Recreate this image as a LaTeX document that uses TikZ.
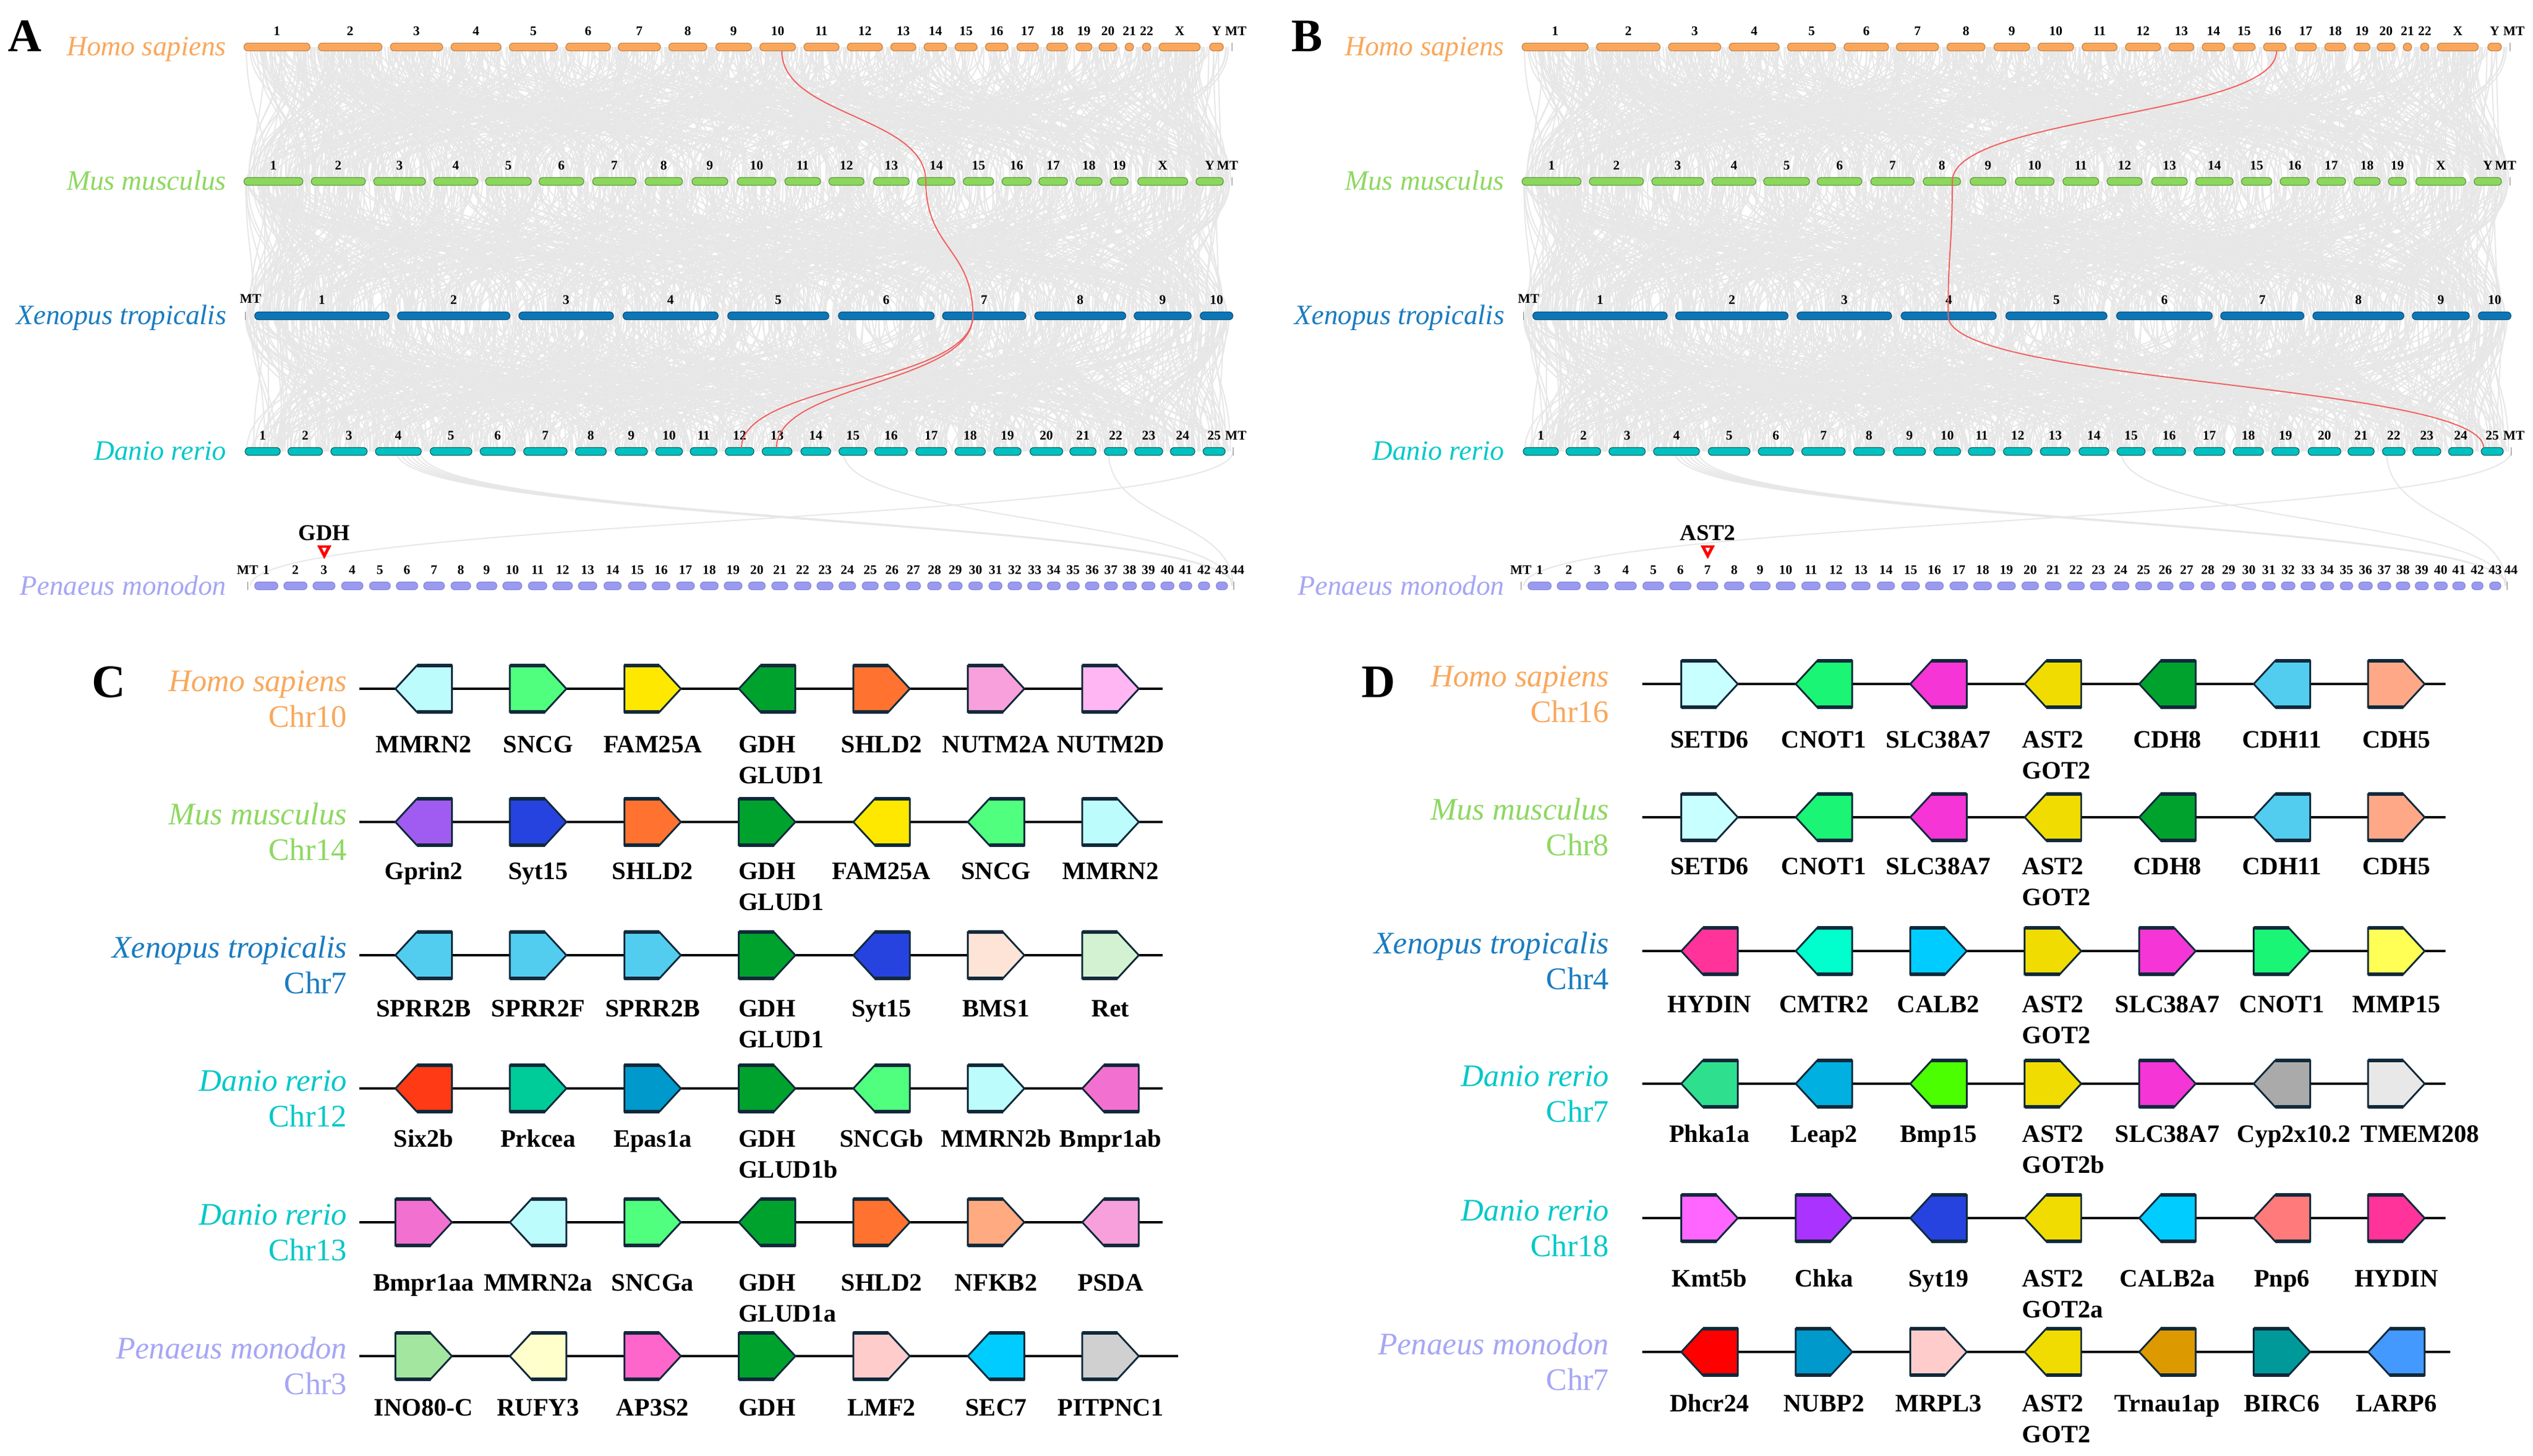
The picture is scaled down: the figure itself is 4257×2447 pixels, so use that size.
\documentclass[tikz,border=0pt]{standalone}
\usepackage{fontspec}
\setmainfont{Liberation Serif}
\usetikzlibrary{calc}

\definecolor{cHomo}{HTML}{FBA75B}
\definecolor{cHomoD}{HTML}{C0834A}
\definecolor{cMus}{HTML}{8CD85C}
\definecolor{cMusD}{HTML}{5E9440}
\definecolor{cXen}{HTML}{0B77B7}
\definecolor{cXenD}{HTML}{084F7C}
\definecolor{cDan}{HTML}{00C1C1}
\definecolor{cDanD}{HTML}{00605F}
\definecolor{cPen}{HTML}{9A9AF0}
\definecolor{cPenD}{HTML}{8585D8}
\definecolor{tHomo}{HTML}{F9A85C}
\definecolor{tMus}{HTML}{8ED862}
\definecolor{tXen}{HTML}{1A7CC0}
\definecolor{tDan}{HTML}{00C8C8}
\definecolor{tPen}{HTML}{A6A6F6}
\definecolor{synt}{HTML}{E7E7E7}
\definecolor{synred}{HTML}{F26060}
\definecolor{gout}{HTML}{10293A}
\definecolor{gLCyan}{HTML}{BDFCFC}
\definecolor{gSNCG}{HTML}{50FF7E}
\definecolor{gYel}{HTML}{FFE800}
\definecolor{gGDH}{HTML}{00A22E}
\definecolor{gOrg}{HTML}{FF7230}
\definecolor{gPinkA}{HTML}{F8A0DC}
\definecolor{gPinkB}{HTML}{FFB6F2}
\definecolor{gPurp}{HTML}{A05CF0}
\definecolor{gBlue}{HTML}{2643E0}
\definecolor{gSky}{HTML}{52CDF0}
\definecolor{gPeach}{HTML}{FDE4D6}
\definecolor{gMint}{HTML}{D2F2D2}
\definecolor{gRedO}{HTML}{FF3A14}
\definecolor{gTeal}{HTML}{00CC99}
\definecolor{gEpas}{HTML}{0099CC}
\definecolor{gBmpr}{HTML}{F270D0}
\definecolor{gNFKB}{HTML}{FFAA80}
\definecolor{gINO}{HTML}{A2E6A0}
\definecolor{gRUFY}{HTML}{FFFFCC}
\definecolor{gAP3}{HTML}{FF66CC}
\definecolor{gLMF}{HTML}{FFCCCC}
\definecolor{gSEC}{HTML}{00CCFF}
\definecolor{gPIT}{HTML}{D0D0D0}
\definecolor{gSETD}{HTML}{C8FFFF}
\definecolor{gCNOT}{HTML}{1AF575}
\definecolor{gSLC}{HTML}{F535D5}
\definecolor{gAST}{HTML}{F0DC00}
\definecolor{gCDH5}{HTML}{FFA888}
\definecolor{gHYD}{HTML}{FF3399}
\definecolor{gCMTR}{HTML}{00FFCC}
\definecolor{gMMP}{HTML}{FFFF55}
\definecolor{gPhk}{HTML}{2EE08E}
\definecolor{gLeap}{HTML}{00B0E0}
\definecolor{gBmp}{HTML}{4CFF00}
\definecolor{gCyp}{HTML}{AAAAAA}
\definecolor{gTMEM}{HTML}{E8E8E8}
\definecolor{gKmt}{HTML}{FF66FF}
\definecolor{gChka}{HTML}{AA33FF}
\definecolor{gPnp}{HTML}{FF7A7A}
\definecolor{gDhcr}{HTML}{FF0000}
\definecolor{gTrn}{HTML}{DD9900}
\definecolor{gBIRC}{HTML}{009999}
\definecolor{gLARP}{HTML}{4499FF}

\def\nolab{-}

\tikzset{
  pics/gene/.style 2 args={code={
    \begin{scope}[xscale=#1]
      \fill[fill=#2] (-47.5,-39) -- (11.5,-39) -- (47.5,0) -- (11.5,39) -- (-47.5,39) -- cycle;
      \draw[geneline] (-47.5,-39) -- (11.5,-39) -- (47.5,0) -- (11.5,39) -- (-47.5,39) -- cycle;
      \draw[genecap] (-47.5,-39) -- (11.5,-39) (-47.5,39) -- (11.5,39);
    \end{scope}
  }}
}

% chromosome row: #1 list a/b/label, #2 y, #3 style, #4 xshift, #5 prefix
\newcommand\chrrow[5]{%
  \foreach \ca/\cb/\cl [count=\k] in {#1}{
    \draw[chrbar,#3] (\ca+#4,#2-6.5) rectangle (\cb+#4,#2+6.5);
    \node[chrnum] (#5\k) at ({(\ca+\cb)/2+#4},#2-20) {\cl};
  }}

\newcommand\toppanel[3]{%
  \chrrow{410/521/1,535/642/2,656/744/3,758/842/4,856/937/5,951/1026/6,1039/1110/7,1124/1188/8,1203/1263/9,1277/1337/10,1351/1410/11,1424/1483/12,1497/1539/13,1553/1591/14,1605/1642/15,1656/1694/16,1709/1745/17,1759/1794/18,1808/1835/19,1847/1877/20,1891/1905/21,1920/1934/22,1948/2017/X,2033/2056/Y}{79}{hs}{#1}{#3H}
  \chrrow{410/509/1,523/614/2,628/715/3,729/803/4,816/893/5,906/981/6,996/1069/7,1084/1147/8,1163/1223/9,1239/1304/10,1319/1379/11,1393/1452/12,1468/1528/13,1542/1605/14,1619/1670/15,1684/1733/16,1746/1794/17,1808/1852/18,1866/1896/19,1912/1996/X,2010/2056/Y}{305}{ms}{#1}{#3M}
  \chrrow{428/654/1,668/857/2,872/1031/3,1047/1207/4,1223/1393/5,1409/1570/6,1584/1724/7,1739/1892/8,1906/2002/9,2017/2072/10}{531}{xs}{#1}{#3X}
  \chrrow{412/471/1,484/542/2,556/617/3,631/708/4,723/793/5,807/866/6,880/953/7,967/1019/8,1034/1088/9,1102/1147/10,1160/1205/11,1219/1267/12,1281/1331/13,1346/1396/14,1410/1457/15,1470/1525/16,1539/1591/17,1605/1656/18,1670/1716/19,1731/1786/20,1798/1842/21,1856/1894/22,1907/1954/23,1967/2008/24,2022/2059/25}{759}{ds}{#1}{#3D}
  \chrrow{428/467/1,477/516/2,526/563/3,574/610/4,621/656/5,666/702/6,712/747/7,758/791/8,801/835/9,845/877/10,888/919/11,929/962/12,972/1003/13,1015/1044/14,1056/1086/15,1096/1126/16,1137/1167/17,1177/1207/18,1217/1247/19,1258/1286/20,1297/1324/21,1335/1363/22,1373/1400/23,1410/1438/24,1449/1476/25,1486/1512/26,1523/1547/27,1559/1582/28,1594/1617/29,1628/1651/30,1662/1684/31,1694/1717/32,1727/1751/33,1760/1782/34,1793/1814/35,1824/1847/36,1856/1878/37,1887/1910/38,1919/1941/39,1951/1973/40,1982/2003/41,2014/2033/42,2044/2063/43}{985}{ps}{#2}{#3P}
  \draw[mtline] (2070+#1,72) -- (2070+#1,86);
  \node[chrnum] (#3HMT) at (2077+#1,59) {MT};
  \draw[mtline] (2070+#1,298) -- (2070+#1,312);
  \node[chrnum] (#3MMT) at (2063+#1,285) {MT};
  \draw[mtline] (412+#1,524) -- (412+#1,538);
  \node[chrnum] (#3XMT) at (421+#1,509) {MT};
  \draw[mtline] (2072+#1,752) -- (2072+#1,766);
  \node[chrnum] (#3DMT) at (2077+#1,739) {MT};
  \draw[mtline] (416+#2,978) -- (416+#2,992);
  \node[chrnum] (#3PMT) at (416+#2,965) {MT};
  \draw[mtline] (2073+#2,978) -- (2073+#2,992);
  \node[chrnum] (#3P44) at (2080+#2,965) {44};
  \node[spA,text=tHomo] (#3sH) at (381+#1,93) {Homo sapiens};
  \node[spA,text=tMus] (#3sM) at (381+#1,319) {Mus musculus};
  \node[spA,text=tXen] (#3sX) at (381+#1,545) {Xenopus tropicalis};
  \node[spA,text=tDan] (#3sD) at (381+#1,773) {Danio rerio};
  \node[spA,text=tPen] (#3sP) at (381+#1,1000) {Penaeus monodon};
}

% gene row: #1 x0, #2 y, #3 x end, #4 label offset, #5 list dir/colour/label/label2/labelshift, #6 prefix, #7 backbone start
\newcommand\generow[7]{%
  \draw[backbone] (#7,#2) coordinate (#6s) -- (#3,#2) coordinate (#6e);
  \foreach \gd/\gc/\gla/\glb/\glo [count=\k from 0] in {#5}{
    \pgfmathsetmacro\gx{#1+\k*192.4}
    \pic (#6g\k) at (\gx,#2) {gene={\gd}{\gc}};
    \node[genelab] (#6l\k) at (\gx+\glo,#2+#4) {\gla};
    \ifx\glb\nolab\else
      \node[genelab,anchor=base west] (#6m\k) at ([yshift=-5.2mm]#6l\k.base west) {\glb};
    \fi
  }}

% species label C/D: #1 right x, #2 line y, #3 colour, #4 species, #5 chr, #6 prefix
\newcommand\splab[6]{%
  \node[spC,text=#3] (#6a) at (#1,#2+4) {\itshape #4};
  \node[spC,text=#3] (#6b) at (#1,#2+64) {#5};
}

% marker: #1 x, #2 text, #3 prefix
\newcommand\gmark[3]{%
  \node[marklab] (#3t) at (#1,908) {#2};
  \fill[red] (#1-12,917) -- (#1+12,917) -- (#1,940) -- cycle;
  \fill[white] (#1-4,921) -- (#1+4,921) -- (#1,929) -- cycle;
}

\begin{document}
\begin{tikzpicture}[x=0.1mm,y=-0.1mm,
  syn/.style={draw=synt,line width=0.2mm},
  redsyn/.style={draw=synred,line width=0.2mm},
  chrbar/.style={rounded corners=1.8pt,line width=0.12mm},
  hs/.style={fill=cHomo,draw=cHomoD},
  ms/.style={fill=cMus,draw=cMusD},
  xs/.style={fill=cXen,draw=cXenD},
  ds/.style={fill=cDan,draw=cDanD},
  ps/.style={fill=cPen,draw=cPenD},
  mtline/.style={draw=gray,line width=0.1mm},
  chrnum/.style={font=\fontsize{6.3}{7}\selectfont\bfseries,anchor=base,inner sep=0pt},
  spA/.style={font=\fontsize{13.4}{15}\selectfont\itshape,anchor=base east,inner sep=0pt},
  panellet/.style={font=\fontsize{22.3}{25}\selectfont\bfseries,anchor=base,inner sep=0pt},
  marklab/.style={font=\fontsize{10.8}{12}\selectfont\bfseries,anchor=base,inner sep=0pt},
  genelab/.style={font=\fontsize{12}{14}\selectfont\bfseries,anchor=base,inner sep=0pt},
  spC/.style={font=\fontsize{15}{17}\selectfont,anchor=base east,inner sep=0pt},
  backbone/.style={draw=black,line width=0.42mm},
  geneline/.style={draw=gout,line width=0.3mm,line join=miter},
  genecap/.style={draw=gout,line width=0.55mm}]

\fill[white] (0,0) rectangle (4257,2447);
\useasboundingbox (0,0) rectangle (4257,2447);

% ---- grey synteny curves (same data in A and B)
\pgfmathsetseed{2024}
\foreach \ya/\yb in {79/305,305/531,531/759}{
  \foreach \i in {1,...,950}{
    \pgfmathsetmacro\sxa{412+1656*rnd}
    \pgfmathsetmacro\sr{rnd}
    \pgfmathsetmacro\sd{(\sr<0.65) ? (rnd-0.5)*500 : (rnd-0.5)*2000}
    \pgfmathsetmacro\sxb{\sxa+\sd}
    \pgfmathsetmacro\sxb{(\sxb<412) ? 824-\sxb : \sxb}
    \pgfmathsetmacro\sxb{(\sxb>2068) ? 4136-\sxb : \sxb}
    \pgfmathsetmacro\sxb{min(2068,max(412,\sxb))}
    \pgfmathsetmacro\sym{(\ya+\yb)/2}
    \draw[syn] (\sxa,\ya) .. controls (\sxa,\sym) and (\sxb,\sym) .. (\sxb,\yb);
    \draw[syn] (\sxa+2148,\ya) .. controls (\sxa+2148,\sym) and (\sxb+2148,\sym) .. (\sxb+2148,\yb);
  }
}
\foreach \sh/\sp in {0/0,2148/2140}{
  \foreach \xo in {666,674,682,690,698,706}{
    \draw[syn] (\xo+\sh,759) .. controls (\xo+\sh,880) and (2073+\sp,870) .. (2073+\sp,985);}
  \draw[syn] (1417+\sh,759) .. controls (1417+\sh,880) and (2070+\sp,870) .. (2070+\sp,985);
  \draw[syn] (1863+\sh,759) .. controls (1863+\sh,880) and (2072+\sp,870) .. (2072+\sp,985);
  \draw[syn] (2072+\sh,759) .. controls (2072+\sh,880) and (421+\sp,870) .. (421+\sp,985);
}

% ---- chromosomes and labels
\toppanel{0}{0}{a}
\toppanel{2148}{2140}{b}

% ---- red syntenic links, panel A
\coordinate (rA1) at (1314,86);
\coordinate (rA2) at (1556,305);
\coordinate (rA3) at (1635,531);
\coordinate (rA4) at (1246,753);
\coordinate (rA5) at (1305,753);
\draw[redsyn] (rA1) .. controls (1314,195) and (1556,195) .. (rA2);
\draw[redsyn] (rA2) .. controls (1556,418) and (1635,418) .. (rA3);
\draw[redsyn] (rA3) .. controls (1635,645) and (1246,645) .. (rA4);
\draw[redsyn] (rA3) .. controls (1635,645) and (1305,645) .. (rA5);
% ---- red syntenic links, panel B
\coordinate (rB1) at (3826,86);
\coordinate (rB2) at (3281,305);
\coordinate (rB3) at (3274,531);
\coordinate (rB4) at (4174,753);
\draw[redsyn] (rB1) .. controls (3826,195) and (3281,195) .. (rB2);
\draw[redsyn] (rB2) .. controls (3281,418) and (3274,418) .. (rB3);
\draw[redsyn] (rB3) .. controls (3274,645) and (4174,645) .. (rB4);

% ---- markers
\gmark{545}{GDH}{mA}
\gmark{2870}{AST2}{mB}

% ---- panel letters
\node[panellet] (pA) at (42,86) {A};
\node[panellet] (pB) at (2197,86) {B};
\node[panellet] (pC) at (183,1172) {C};
\node[panellet] (pD) at (2317,1172) {D};

% ---- panel C
\splab{584}{1158}{tHomo}{Homo sapiens}{Chr10}{cS1}
\generow{712}{1158}{1954}{107}{-1/gLCyan/MMRN2/-/0,1/gSNCG/SNCG/-/0,1/gYel/FAM25A/-/0,-1/gGDH/GDH/GLUD1/0,1/gOrg/SHLD2/-/0,1/gPinkA/NUTM2A/-/0,1/gPinkB/NUTM2D/-/0}{cR1}{604}
\splab{584}{1382}{tMus}{Mus musculus}{Chr14}{cS2}
\generow{712}{1382}{1954}{96}{-1/gPurp/Gprin2/-/0,1/gBlue/Syt15/-/0,1/gOrg/SHLD2/-/0,1/gGDH/GDH/GLUD1/0,-1/gYel/FAM25A/-/0,-1/gSNCG/SNCG/-/0,1/gLCyan/MMRN2/-/0}{cR2}{604}
\splab{584}{1606}{tXen}{Xenopus tropicalis}{Chr7}{cS3}
\generow{712}{1606}{1954}{103}{-1/gSky/SPRR2B/-/0,1/gSky/SPRR2F/-/0,1/gSky/SPRR2B/-/0,1/gGDH/GDH/GLUD1/0,-1/gBlue/Syt15/-/0,1/gPeach/BMS1/-/0,1/gMint/Ret/-/0}{cR3}{604}
\splab{584}{1830}{tDan}{Danio rerio}{Chr12}{cS4}
\generow{712}{1830}{1954}{98}{-1/gRedO/Six2b/-/0,1/gTeal/Prkcea/-/0,1/gEpas/Epas1a/-/0,1/gGDH/GDH/GLUD1b/0,-1/gSNCG/SNCGb/-/0,1/gLCyan/MMRN2b/-/0,-1/gBmpr/Bmpr1ab/-/0}{cR4}{604}
\splab{584}{2055}{tDan}{Danio rerio}{Chr13}{cS5}
\generow{712}{2055}{1954}{115}{1/gBmpr/Bmpr1aa/-/0,-1/gLCyan/MMRN2a/-/0,1/gSNCG/SNCGa/-/0,-1/gGDH/GDH/GLUD1a/0,1/gOrg/SHLD2/-/0,1/gNFKB/NFKB2/-/0,-1/gPinkA/PSDA/-/0}{cR5}{604}
\splab{584}{2280}{tPen}{Penaeus monodon}{Chr3}{cS6}
\generow{712}{2280}{1980}{100}{1/gINO/INO80-C/-/0,-1/gRUFY/RUFY3/-/0,1/gAP3/AP3S2/-/0,1/gGDH/GDH/-/0,1/gLMF/LMF2/-/0,-1/gSEC/SEC7/-/0,1/gPIT/PITPNC1/-/0}{cR6}{604}

% ---- panel D
\splab{2705}{1150}{tHomo}{Homo sapiens}{Chr16}{dS1}
\generow{2873}{1150}{4110}{107}{1/gSETD/SETD6/-/0,-1/gCNOT/CNOT1/-/0,-1/gSLC/SLC38A7/-/0,-1/gAST/AST2/GOT2/0,-1/gGDH/CDH8/-/0,-1/gSky/CDH11/-/0,1/gCDH5/CDH5/-/0}{dR1}{2760}
\splab{2705}{1374}{tMus}{Mus musculus}{Chr8}{dS2}
\generow{2873}{1374}{4110}{96}{1/gSETD/SETD6/-/0,-1/gCNOT/CNOT1/-/0,-1/gSLC/SLC38A7/-/0,-1/gAST/AST2/GOT2/0,-1/gGDH/CDH8/-/0,-1/gSky/CDH11/-/0,1/gCDH5/CDH5/-/0}{dR2}{2760}
\splab{2705}{1599}{tXen}{Xenopus tropicalis}{Chr4}{dS3}
\generow{2873}{1599}{4110}{103}{-1/gHYD/HYDIN/-/0,-1/gCMTR/CMTR2/-/0,1/gSEC/CALB2/-/0,1/gAST/AST2/GOT2/0,1/gSLC/SLC38A7/-/0,1/gCNOT/CNOT1/-/0,1/gMMP/MMP15/-/0}{dR3}{2760}
\splab{2705}{1822}{tDan}{Danio rerio}{Chr7}{dS4}
\generow{2873}{1822}{4110}{98}{-1/gPhk/Phka1a/-/0,-1/gLeap/Leap2/-/0,-1/gBmp/Bmp15/-/0,1/gAST/AST2/GOT2b/0,1/gSLC/SLC38A7/-/0,-1/gCyp/Cyp2x10.2/-/20,1/gTMEM/TMEM208/-/40}{dR4}{2760}
\splab{2705}{2048}{tDan}{Danio rerio}{Chr18}{dS5}
\generow{2873}{2048}{4110}{115}{1/gKmt/Kmt5b/-/0,1/gChka/Chka/-/0,-1/gBlue/Syt19/-/0,-1/gAST/AST2/GOT2a/0,-1/gSEC/CALB2a/-/0,-1/gPnp/Pnp6/-/0,1/gHYD/HYDIN/-/0}{dR5}{2760}
\splab{2705}{2273}{tPen}{Penaeus monodon}{Chr7}{dS6}
\generow{2873}{2273}{4118}{100}{-1/gDhcr/Dhcr24/-/0,1/gEpas/NUBP2/-/0,1/gLMF/MRPL3/-/0,-1/gAST/AST2/GOT2/0,-1/gTrn/Trnau1ap/-/0,1/gBIRC/BIRC6/-/0,-1/gLARP/LARP6/-/0}{dR6}{2760}

\end{tikzpicture}
\end{document}
